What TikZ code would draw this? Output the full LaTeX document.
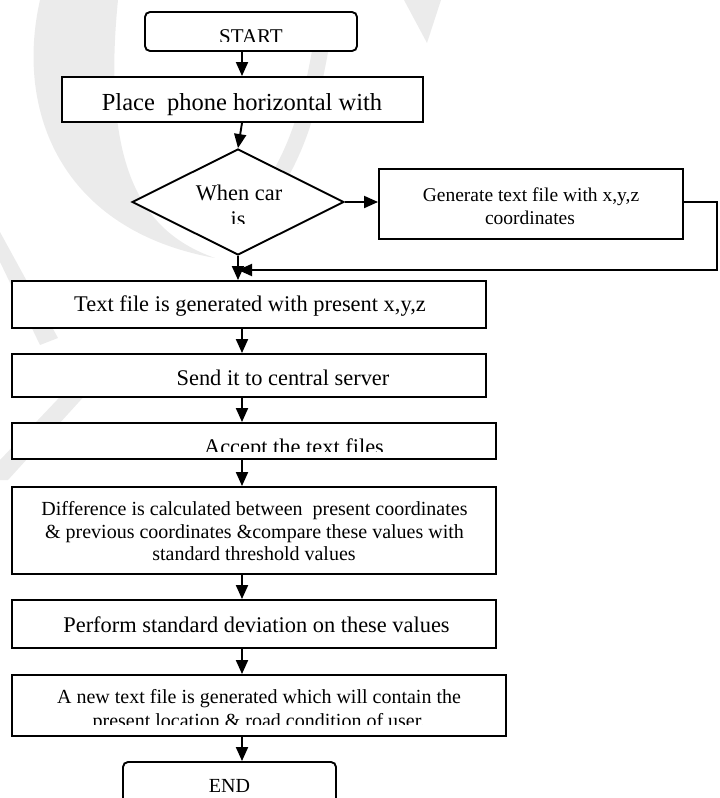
\documentclass[tikz,border=0pt]{standalone}
\usepackage{fontspec}
\setmainfont{Liberation Serif}
\usetikzlibrary{arrows.meta,shapes.geometric}
\begin{document}
\begin{tikzpicture}[x=1pt,y=-1pt,line width=1.9pt,
  box/.style={draw,fill=white,rectangle,inner sep=0pt},
  rbox/.style={box,rounded corners=5pt},
  conn/.style={-{Triangle[length=14pt,width=12pt]}},
  wm/.style={gray!16},
  fA/.style={font=\fontsize{24.5}{28}\selectfont},
  fB/.style={font=\fontsize{22.4}{26}\selectfont},
  fC/.style={font=\fontsize{20}{24}\selectfont},
  txt/.style={inner sep=0pt,anchor=base}]
\useasboundingbox (0,0) rectangle (720,798);
% watermark
\fill[wm] (40,0) .. controls (15,110) and (60,230) .. (215,258) .. controls (150,235) and (100,180) .. (118,0) -- cycle;
\draw[wm,line width=16pt] (322,40) .. controls (312,100) and (300,140) .. (280,175);
\fill[wm] (404,0) -- (441,0) -- (427,43) -- cycle;
\fill[wm] (0,232) -- (0,262) -- (40,345) -- (58,338) -- cycle;
\fill[wm] (95,360) -- (108,370) -- (8,480) -- (0,480) -- (0,460) -- cycle;
% boxes
\coordinate (sp) at (242,0);
\node[rbox,minimum width=212pt,minimum height=39pt] (start) at (251,31.5) {};
\node[box,minimum width=361pt,minimum height=45pt] (place) at (242.5,99.5) {};
\node[draw,fill=white,diamond,inner sep=0pt,minimum width=212pt,minimum height=106pt] (dec) at (238,202) {};
\node[box,minimum width=304pt,minimum height=70pt] (gen) at (531,204) {};
\node[box,minimum width=474pt,minimum height=47pt] (tf) at (249,304.5) {};
\node[box,minimum width=474pt,minimum height=43pt] (send) at (249,375.5) {};
\node[box,minimum width=484pt,minimum height=36pt] (acc) at (254,441) {};
\node[box,minimum width=484pt,minimum height=87pt] (diff) at (254,530.5) {};
\node[box,minimum width=484pt,minimum height=48pt] (perf) at (254,624) {};
\node[box,minimum width=494pt,minimum height=61pt] (new) at (259,705.5) {};
\node[rbox,minimum width=213pt,minimum height=58pt] (end) at (229.5,791) {};
% texts
\begin{scope}
\clip (150,14) rectangle (350,41.5);
\node[txt,fC,font=\fontsize{21}{24}\selectfont] (tstart) at (251,43) {START};
\end{scope}
\node[txt,fA] (tplace) at (242,110) {Place\ \ phone horizontal with};
\node[txt,fB] (tdec1) at (239,200) {When car};
\begin{scope}
\clip (200,205) rectangle (280,223);
\node[txt,fB] (tdec2) at (238,226) {is};
\end{scope}
\node[txt,fC,font=\fontsize{19.5}{24}\selectfont] (tgen1) at (531,201) {Generate text file with x,y,z};
\node[txt,fC,font=\fontsize{19.5}{24}\selectfont] (tgen2) at (530,224) {coordinates};
\node[txt,fB] (ttf) at (250,311) {Text file is generated with present x,y,z};
\node[txt,fB] (tsend) at (283,385) {Send it to central server};
\begin{scope}
\clip (20,425) rectangle (490,451);
\node[txt,fB] (tacc) at (294,454) {Accept the text files};
\end{scope}
\node[txt,fC] (tdiff1) at (254.5,515) {Difference is calculated between\ \ present coordinates};
\node[txt,fC] (tdiff2) at (254.5,538) {\& previous coordinates \&compare these values with};
\node[txt,fC] (tdiff3) at (254,560) {standard threshold values};
\node[txt,fB] (tperf) at (256.5,632) {Perform standard deviation on these values};
\node[txt,fC] (tnew1) at (259,703) {A new text file is generated which will contain the};
\begin{scope}
\clip (20,708) rectangle (500,724.5);
\node[txt,fC] (tnew2) at (259,727) {present location \& road condition of user.};
\end{scope}
\node[txt,fC] (tend) at (229.5,792) {END};
% connectors
\draw[conn] (start.south -| sp) -- (place.north -| sp);
\draw[conn] (place.south -| sp) -- (dec.north);
\draw[conn] (dec.east) -- (gen.west |- dec.east);
\draw[conn] (dec.south) -- (dec.south |- tf.north);
\coordinate (rc) at (717,270);
\draw[conn] (gen.east |- dec.east) -| (rc) -- (dec.south |- rc);
\draw[conn] (tf.south -| sp) -- (send.north -| sp);
\draw[conn] (send.south -| sp) -- (acc.north -| sp);
\draw[conn] (acc.south -| sp) -- (diff.north -| sp);
\draw[conn] (diff.south -| sp) -- (perf.north -| sp);
\draw[conn] (perf.south -| sp) -- (new.north -| sp);
\draw[conn] (new.south -| sp) -- (end.north -| sp);
\end{tikzpicture}
\end{document}
